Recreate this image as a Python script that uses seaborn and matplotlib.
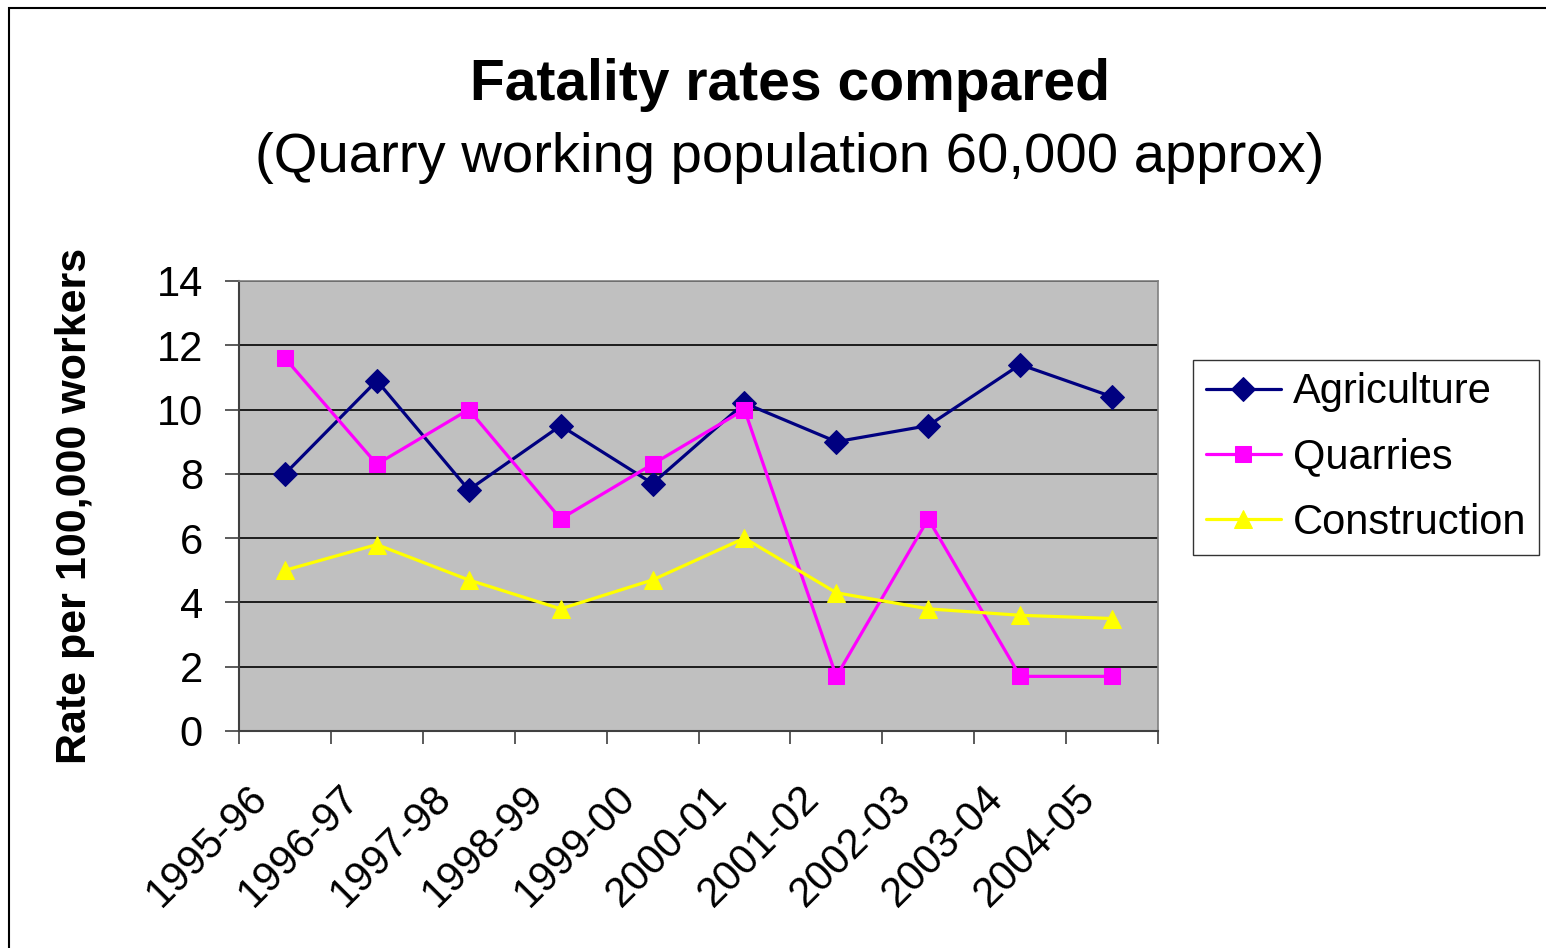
import matplotlib
matplotlib.use("Agg")
import matplotlib.pyplot as plt
import matplotlib.transforms as mtransforms
import seaborn as sns
import pandas as pd
import numpy as np
from matplotlib.patches import Rectangle

periods = ["1995-96", "1996-97", "1997-98", "1998-99", "1999-00",
           "2000-01", "2001-02", "2002-03", "2003-04", "2004-05"]
agriculture = [8.0, 10.9, 7.5, 9.5, 7.7, 10.2, 9.0, 9.5, 11.4, 10.4]
quarries = [11.6, 8.3, 10.0, 6.6, 8.3, 10.0, 1.7, 6.6, 1.7, 1.7]
construction = [5.0, 5.8, 4.7, 3.8, 4.7, 6.0, 4.3, 3.8, 3.6, 3.5]
yticks = [0, 2, 4, 6, 8, 10, 12, 14]

sns.set_theme(style="white")
plt.rcParams['font.family'] = ['Liberation Sans', 'DejaVu Sans']
for k in ["text.color", "axes.labelcolor", "xtick.color", "ytick.color"]:
    plt.rcParams[k] = "black"

fig = plt.figure(figsize=(15.46, 9.48), dpi=100)
ax = fig.add_axes([239/1546, 1-731/948, (1158-239)/1546, (731-281)/948])
ax.set_facecolor("#C0C0C0")

series = [("Agriculture", agriculture, "#000080", "D", 12),
          ("Quarries", quarries, "#FF00FF", "s", 11),
          ("Construction", construction, "#FFFF00", "^", 13)]
for name, vals, col, mk, ms in series:
    df = pd.DataFrame({"period": periods, "rate": vals})
    sns.lineplot(data=df, x="period", y="rate", ax=ax, color=col, marker=mk,
                 markersize=ms, markeredgecolor=col, linewidth=2.3, label=name,
                 sort=False)

ax.set_xlim(-0.5, len(periods) - 0.5)
ax.set_ylim(0, 14)
ax.set_yticks(yticks)
ax.grid(axis="y", color="black", linewidth=1.2)
ax.set_axisbelow(True)

ax.set_xticks(range(len(periods)))
ax.set_xticklabels(periods, rotation=45, ha="right", va="center", rotation_mode="anchor",
                   fontsize=30)
ax.tick_params(axis="x", which="major", length=0, pad=44)
offset = mtransforms.ScaledTranslation(-23/100, 0, fig.dpi_scale_trans)
for lab in ax.get_xticklabels():
    lab.set_transform(lab.get_transform() + offset)
ax.set_xticks(np.arange(-0.5, len(periods), 1.0), minor=True)
ax.tick_params(axis="x", which="minor", length=9.5, width=1.2, color="#404040", bottom=True)
ax.tick_params(axis="y", which="major", length=10, width=1.2, color="#404040", left=True,
               labelsize=30, pad=16)

for s in ["left", "bottom"]:
    ax.spines[s].set_color("#404040")
    ax.spines[s].set_linewidth(1.5)
for s in ["right", "top"]:
    ax.spines[s].set_color("#808080")
    ax.spines[s].set_linewidth(1.2)

ax.set_xlabel("")
ax.set_ylabel("Rate per 100,000 workers", fontsize=31, fontweight="bold")
ax.yaxis.set_label_coords((75-239)/919, 0.5)
ax.yaxis.label.set_va("center")

leg = ax.legend(loc="upper left", bbox_to_anchor=(1193/1546, 1-360/948),
                bbox_transform=fig.transFigure, fontsize=30, frameon=True,
                fancybox=False, edgecolor="black", handlelength=1.8,
                borderpad=0.3, labelspacing=0.6, handletextpad=0.3,
                borderaxespad=0)
leg.get_frame().set_linewidth(1.0)

fig.text(790/1546, 1-100/948, "Fatality rates compared", ha="center", va="baseline",
         fontsize=41, fontweight="bold")
fig.text(790/1546, 1-172/948, "(Quarry working population 60,000 approx)",
         ha="center", va="baseline", fontsize=40.5)

fig.patches.append(Rectangle((9/1546, -0.1), 2, 1 - 8/948 + 0.1, transform=fig.transFigure,
                             fill=False, edgecolor="black", linewidth=1.5))

fig.savefig("out.png", dpi=100)
